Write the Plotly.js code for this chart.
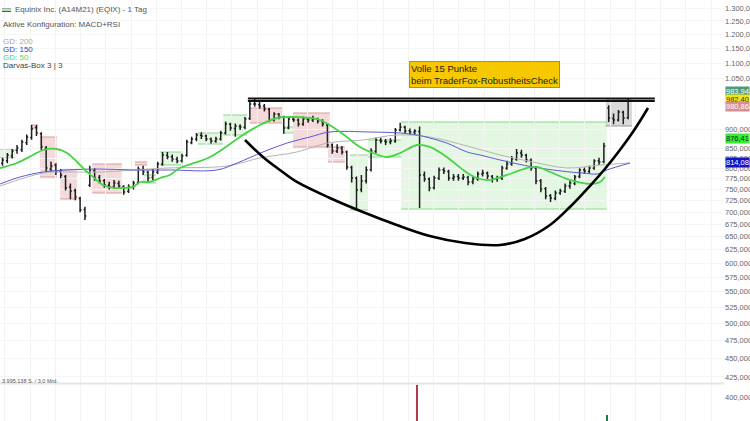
<!DOCTYPE html>
<html>
<head>
<meta charset="utf-8">
<script src="https://cdn.plot.ly/plotly-3.0.1.min.js"></script>
<style>html,body{margin:0;padding:0;background:#fff;}#chart{width:750px;height:421px;}</style>
</head>
<body>
<div id="chart"></div>
<script>
// ---------- DATA ----------
// one bar ~ every 4 trading days, Equinix (EQIX) daily chart
const barOpen  = [812,818,830,845,846,864,878,905,888,850,798,808,792,780,756,748,730,706,760,794,
                  778,770,760,756,764,757,746,756,766,797,790,778,790,810,832,828,822,818,832,864,
                  874,884,882,874,868,874,890,914,902,908,906,930,972,970,966,956,926,942,934,904,
                  928,926,914,928,926,928,922,912,858,842,850,840,802,776,750,770,796,842,870,868,
                  866,868,898,906,896,892,894,784,774,754,776,796,792,776,780,776,778,768,774,786,
                  788,780,774,776,800,810,822,838,832,820,800,770,752,736,730,742,746,758,764,780,
                  796,792,800,818,816,960,930,926,948,932];
const barHigh  = [826,838,848,858,872,886,912,912,892,856,816,812,798,784,764,752,734,712,806,800,
                  784,774,768,772,770,760,762,770,804,806,794,798,816,840,840,834,828,836,872,880,
                  890,892,886,878,880,896,922,918,916,914,934,980,988,982,972,960,948,946,938,934,
                  936,930,936,934,938,932,928,916,862,860,856,844,806,780,784,804,850,878,878,874,
                  876,904,918,910,902,900,908,792,778,782,802,802,796,786,786,786,782,780,792,796,
                  792,784,782,806,818,830,848,846,836,824,804,774,756,740,748,752,764,770,784,800,
                  802,806,822,826,864,968,944,954,952,988];
const barLow   = [806,812,824,836,840,858,872,882,846,792,792,784,776,748,728,726,700,684,756,770,
                  764,754,750,752,752,738,742,750,762,784,768,772,786,806,822,816,812,814,828,860,
                  868,874,868,862,864,870,886,896,880,898,900,926,964,958,950,920,922,928,888,900,
                  920,908,910,918,920,916,908,852,836,838,834,796,766,706,744,764,792,838,862,858,
                  860,864,894,888,886,886,709,768,746,750,772,786,770,770,770,772,760,762,770,780,
                  774,766,768,772,796,806,818,826,814,794,762,744,728,722,726,738,742,752,760,776,
                  786,788,796,808,812,920,914,922,914,928];
const barClose = [820.2,832.7,842.9,850.6,866.2,879.4,901.0,890.1,853.2,800.5,805.4,790.9,783.8,753.5,746.7,733.2,704.9,692.2,795.7,776.6,
                  769.7,760.4,755.8,765.0,758.0,744.4,755.8,765.0,798.1,790.9,776.6,790.9,810.3,832.7,827.7,822.7,817.7,830.2,866.2,874.0,
                  884.7,882.0,874.0,868.8,874.0,890.1,914.7,903.7,909.2,906.4,928.7,971.8,971.8,966.0,957.2,925.9,942.8,934.3,903.7,928.7,
                  925.9,914.7,928.7,925.9,928.7,923.1,914.7,858.3,842.9,850.6,840.3,803.0,776.6,748.9,769.7,795.7,842.9,871.4,868.8,866.2,
                  868.8,898.2,906.4,895.5,892.8,895.5,783.8,774.3,753.5,776.6,795.7,793.3,776.6,779.0,776.6,779.0,767.3,774.3,786.1,788.5,
                  781.4,774.3,776.6,800.5,810.3,822.7,837.8,832.7,820.2,800.5,769.7,751.2,735.4,731.0,742.2,746.7,758.0,765.0,779.0,795.7,
                  793.3,800.5,817.7,815.2,855.7,931.5,925.9,948.6,931.5,980.7];

// moving averages (position in bars, value)
const gd50Pos  = [-0.5,3.0,6.3,8.4,11.2,13.3,15.4,17.0,18.7,20.7,22.8,24.8,26.9,28.4,30.4,32.5,34.5,36.6,42.8,49.6,53.1,56.6,59.9,63.4,65.5,68.1,71.0,73.7,76.4,79.3,82.0,85.5,88.1,91.6,95.0,97.8,100.5,104.0,108.1,110.2,112.9,117.0,121.1,123.2,124.2];
const gd50Val  = [800.5,812.8,832.7,845.4,848.0,837.8,815.2,795.7,779.0,760.4,753.5,753.5,755.8,767.3,767.3,776.6,783.8,800.5,827.7,884.7,912.0,931.5,934.3,931.5,925.9,906.4,879.4,853.2,837.8,827.7,837.8,858.3,853.2,827.7,795.7,776.6,772.0,783.8,800.5,803.0,790.9,772.0,762.7,767.3,779.0];
const gd150Pos = [-0.5,3.6,8.4,13.3,20.1,26.9,34.5,44.2,48.4,53.7,58.7,63.4,67.5,75.8,82.0,85.5,88.1,91.6,95.8,98.5,102.6,109.4,117.0,119.7,122.6,124.6,129.4];
const gd150Val = [762.7,779.0,790.9,795.7,798.1,795.7,795.7,795.7,812.8,840.3,863.5,879.4,892.8,892.8,890.1,884.7,876.7,863.5,840.3,832.7,820.2,803.0,790.9,788.5,786.1,795.7,812.8];
const gd200Pos = [-0.5,8.4,13.3,20.1,33.9,46.3,53.1,60.7,67.0,74.3,81.3,88.1,95.8,102.6,109.4,116.4,123.2,129.4];
const gd200Val = [758.0,788.5,790.9,790.9,800.5,805.4,825.2,840.3,863.5,871.4,884.7,879.4,855.7,832.7,815.2,800.5,807.8,812.8];

// Darvas boxes
const boxStart  = [5.7,7.7,11.9,18.5,27.3,51.0,59.9,67.1, -0.5,29.0,32.5,40.3,45.5,57.8,71.6,75.4,82.2, 124.4];
const boxEnd    = [7.3,11.2,15.4,24.6,29.8,57.8,67.5,70.6, 2.6,31.9,37.2,45.5,50.4,59.9,75.4,82.2,124.6, 129.8];
const boxTop    = [912,879.4,798.1,810.3,815.2,960.1,945.7,853.2, 848.0,783.8,840.3,890.1,940.0,906.4,832.7,871.4,920.3, 983.7];
const boxBottom = [903.7,779.0,728.8,742.2,807.8,917.5,853.2,815.2, 825.2,765.0,807.8,860.9,884.7,890.1,704.9,827.7,707.0, 909.2];
const boxKind   = ['down','down','down','down','down','down','down','down','up','up','up','up','up','up','up','up','up','open'];

// hand-drawn cup and resistance
const cupPos = [50.0,53.7,57.2,60.7,67.5,74.3,81.3,88.1,95.4,102.6,107.7,112.9,117.0,121.1,124.2,127.3,130.4,133.1];
const cupVal = [871.4,827.7,795.7,767.3,731.0,700.6,673.6,651.5,637.8,634.0,645.6,673.6,711.3,758.0,798.1,845.4,901.0,960.1];
const resStart = 50.6, resEnd = 134.5;
const resLevels = [988.5, 980.8];

// price tags on the right axis
const tagValues = [983.94, 982.40, 980.86, 876.41, 814.08];
const tagLabels = ['983,94','982,40','980,86','876,41','814,08'];

// axis ticks
const yTickVals = [1300,1250,1200,1150,1100,1050,900,850,825,800,775,750,725,700,675,650,625,600,575,550,525,500,475,450,425,400,375];

// volume (only the bars that reach into the visible strip)
const volPos = [85.5, 124.6];
const volVal = [12.1e6, 7.0e6];

// ---------- STYLE ----------
const FONT = 'Liberation Sans, Arial, sans-serif';
const W = 750, H = 421, MR = 26, PW = W - MR;
const fmtTick = v => v >= 1000 ? '1.' + String(v - 1000).padStart(3, '0') + ',000' : v + ',000';
const boxStyle = {
  down: {fill: 'rgba(220,140,140,0.32)', line: '#dc9a9a'},
  up:   {fill: 'rgba(150,225,150,0.27)', line: '#8cd68c'},
  open: {fill: 'rgba(150,150,150,0.35)', line: '#999999'}
};
const tagStyle = [
  {bg: '#4e9a7c', fg: '#ffffff', shift: 8},
  {bg: '#f2e21a', fg: '#333333', shift: 1},
  {bg: '#d88e8e', fg: '#ffffff', shift: -6},
  {bg: '#33ee33', fg: '#222222', shift: 0},
  {bg: '#1515c8', fg: '#ffffff', shift: 0}
];

const idx = barClose.map((_, i) => i);

const traces = [
  {type: 'scatter', mode: 'lines', x: gd200Pos, y: gd200Val, line: {color: '#b5b5b5', width: 1, shape: 'spline'}, hoverinfo: 'skip'},
  {type: 'scatter', mode: 'lines', x: gd150Pos, y: gd150Val, line: {color: '#5a5ad0', width: 1, shape: 'spline'}, hoverinfo: 'skip'},
  {type: 'scatter', mode: 'lines', x: gd50Pos,  y: gd50Val,  line: {color: '#44d444', width: 1.8, shape: 'spline'}, hoverinfo: 'skip'},
  {type: 'ohlc', x: idx, open: barOpen, high: barHigh, low: barLow, close: barClose,
   increasing: {line: {color: '#1e1e1e', width: 1.5}}, decreasing: {line: {color: '#1e1e1e', width: 1.5}},
   tickwidth: 0.3, hoverinfo: 'skip'},
  {type: 'scatter', mode: 'lines', x: cupPos, y: cupVal, line: {color: '#000', width: 2.6, shape: 'spline', smoothing: 1}, hoverinfo: 'skip'},
  {type: 'bar', x: volPos, y: volVal, yaxis: 'y2', width: [0.3, 0.45],
   marker: {color: ['#b03a4a', '#1f7a4a']}, hoverinfo: 'skip'}
];

const shapes = [];
boxStart.forEach((s, i) => {
  const st = boxStyle[boxKind[i]];
  shapes.push({type: 'rect', xref: 'x', yref: 'y', x0: s, x1: boxEnd[i], y0: boxBottom[i], y1: boxTop[i],
               fillcolor: st.fill, line: {width: 0}, layer: 'below'});
  [boxTop[i], boxBottom[i]].forEach(v => shapes.push({type: 'line', xref: 'x', yref: 'y', x0: s, x1: boxEnd[i], y0: v, y1: v,
               line: {color: st.line, width: 1}, layer: 'below'}));
});
resLevels.forEach(v => shapes.push({type: 'line', xref: 'x', yref: 'y', x0: resStart, x1: resEnd, y0: v, y1: v,
               line: {color: '#111', width: 2}}));
// separator between price and volume pane
shapes.push({type: 'line', xref: 'paper', yref: 'paper', x0: 0, x1: 1, y0: 1 - 383.5 / H, y1: 1 - 383.5 / H,
             line: {color: '#e6e6e6', width: 2}});
// legend icon
['#aaaaaa', '#66cc66', '#555555'].forEach((c, k) => shapes.push({type: 'line', xref: 'paper', yref: 'paper',
   x0: 2 / PW, x1: 11 / PW, y0: 1 - (8.5 + k * 1.5) / H, y1: 1 - (8.5 + k * 1.5) / H, line: {color: c, width: 1}}));

const pxAnn = (px, py, text, color, size, extra) => Object.assign({
  xref: 'paper', yref: 'paper', x: px / PW, y: 1 - py / H, xanchor: 'left', yanchor: 'middle',
  text: text, showarrow: false, font: {family: FONT, size: size, color: color}
}, extra || {});

const annotations = [
  pxAnn(13, 10, 'Equinix Inc. (A14M21) (EQIX) - 1 Tag', '#555', 8),
  pxAnn(1, 25, 'Aktive Konfiguration: MACD+RSI', '#555', 8),
  pxAnn(1, 41.5, 'GD: 200', '#a8a8a8', 8),
  pxAnn(1, 49.5, 'GD: 150', '#3a3ab8', 8),
  pxAnn(1, 57.5, 'GD: 50', '#4fd84f', 8),
  pxAnn(1, 66, 'Darvas-Box 3 | 3', '#444', 8),
  pxAnn(0, 381, '3.995.138 S. / 3,0 Mrd.', '#555', 5.5),
  pxAnn(409, 61, 'Volle 15 Punkte<br>beim TraderFox-RobustheitsCheck', '#222', 9.5,
        {yanchor: 'top', align: 'left', bgcolor: '#f6c800', bordercolor: '#b89200', borderwidth: 1, borderpad: 1})
];
tagValues.forEach((v, i) => annotations.push({
  xref: 'paper', yref: 'y', x: 1, y: Math.log10(v), xanchor: 'left', yanchor: 'middle', xshift: 1, yshift: tagStyle[i].shift,
  text: tagLabels[i], showarrow: false, bgcolor: tagStyle[i].bg, borderpad: 0,
  font: {family: FONT, size: 7.5, color: tagStyle[i].fg}
}));

const layout = {
  width: W, height: H, autosize: false,
  margin: {l: 0, r: MR, t: 0, b: 0, pad: 0},
  paper_bgcolor: '#fff', plot_bgcolor: '#fff',
  showlegend: false, bargap: 0,
  font: {family: FONT},
  xaxis: {range: [-0.5155, 148.77], showticklabels: false, ticks: '', zeroline: false,
          showgrid: true, gridcolor: '#f3f3f3', tick0: 0.5, dtick: 5.2, rangeslider: {visible: false}, fixedrange: true},
  yaxis: {type: 'log', side: 'right', range: [2.57042, 3.12447], domain: [0, 1],
          tickmode: 'array', tickvals: yTickVals, ticktext: yTickVals.map(fmtTick),
          tickfont: {family: FONT, size: 7.5, color: '#666'}, ticks: '', showgrid: true, gridcolor: '#f5f5f5',
          zeroline: false, showline: false, fixedrange: true},
  yaxis2: {domain: [0, 37 / H], range: [6e6, 12.2e6], showticklabels: false, showgrid: false, zeroline: false, fixedrange: true},
  shapes: shapes,
  annotations: annotations
};

Plotly.newPlot('chart', traces, layout, {staticPlot: true, displayModeBar: false});
</script>
</body>
</html>
